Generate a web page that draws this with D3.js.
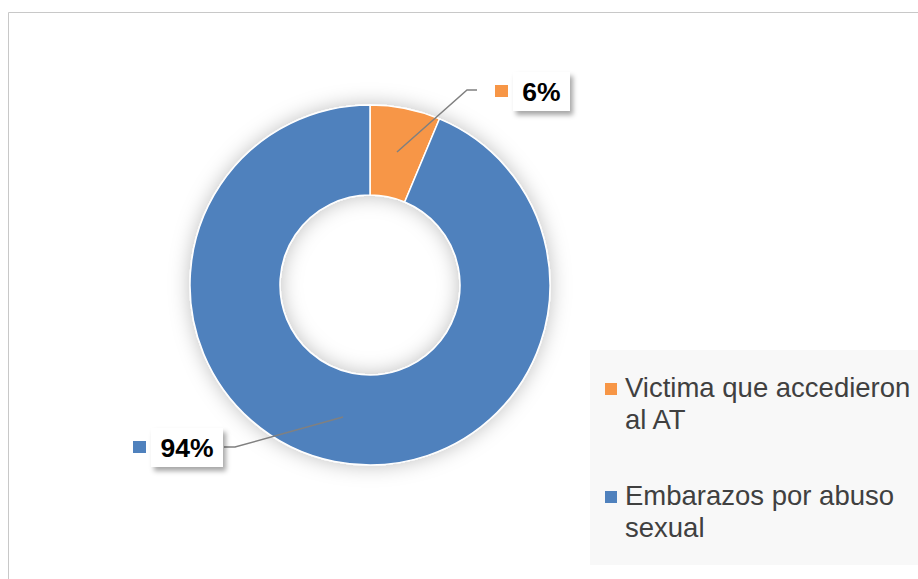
<!DOCTYPE html>
<html>
<head>
<meta charset="utf-8">
<script src="https://cdn.jsdelivr.net/npm/d3@7"></script>
<style>
  body { margin: 0; background: #fff; }
  svg { display: block; font-family: "Liberation Sans", Arial, sans-serif; }
</style>
</head>
<body>
<svg id="chart" width="918" height="579"></svg>
<script>
// data
const categories = ['Victima que accedieron al AT', 'Embarazos por abuso sexual'];
const values     = [6.3, 93.7];
const labels     = ['6%', '94%'];
const colors     = ['#f79646', '#4f81bd'];
const legendLines = [['Victima que accedieron', 'al AT'], ['Embarazos por abuso', 'sexual']];

const svg = d3.select('#chart');
const W = 918, H = 579;

// chart border
svg.append('path')
    .attr('d', `M8.5,${H} V12.5 H${W}`)
    .attr('fill', 'none').attr('stroke', '#c8c8c8').attr('stroke-width', 1);

const defs = svg.append('defs');
const glow = defs.append('filter').attr('id', 'glow')
    .attr('x', '-30%').attr('y', '-30%').attr('width', '160%').attr('height', '160%');
glow.append('feDropShadow').attr('dx', 0).attr('dy', 0)
    .attr('stdDeviation', 10).attr('flood-color', '#000').attr('flood-opacity', 0.25);

const boxShadow = defs.append('filter').attr('id', 'boxShadow')
    .attr('x', '-20%').attr('y', '-20%').attr('width', '150%').attr('height', '160%');
boxShadow.append('feDropShadow').attr('dx', 3).attr('dy', 4)
    .attr('stdDeviation', 2.5).attr('flood-color', '#000').attr('flood-opacity', 0.35);

const cx = 370, cy = 285, R = 180, r = 90;
const g = svg.append('g').attr('transform', `translate(${cx},${cy})`);

const pie = d3.pie().sort(null).value(d => d)(values);
const arc = d3.arc().innerRadius(r).outerRadius(R);

g.append('g').attr('filter', 'url(#glow)')
    .selectAll('path')
    .data(pie)
    .join('path')
    .attr('d', arc)
    .attr('fill', (d, i) => colors[i])
    .attr('stroke', '#fff')
    .attr('stroke-width', 1.5);

// data labels with leader lines
const labelPos = [
    { box: [513, 72, 57, 39], line: [[397, 152], [467, 90], [477, 90]] },
    { box: [151, 428, 72, 39], line: [[343, 417], [235, 447], [224, 447]] }
];

labels.forEach((lab, i) => {
    const p = labelPos[i];
    svg.append('path')
        .attr('d', d3.line()(p.line))
        .attr('fill', 'none').attr('stroke', '#808080').attr('stroke-width', 1.5);
    const [bx, by, bw, bh] = p.box;
    svg.append('rect')
        .attr('x', bx).attr('y', by).attr('width', bw).attr('height', bh)
        .attr('fill', '#fff').attr('filter', 'url(#boxShadow)');
    svg.append('rect')
        .attr('x', bx - 18).attr('y', by + 13).attr('width', 13).attr('height', 12)
        .attr('fill', colors[i]);
    svg.append('text')
        .attr('x', bx + bw / 2).attr('y', by + bh / 2 + 9)
        .attr('text-anchor', 'middle')
        .attr('font-size', 26.5).attr('font-weight', 'bold').attr('fill', '#000')
        .text(lab);
});

// legend
svg.append('rect')
    .attr('x', 590).attr('y', 350).attr('width', W - 590).attr('height', 215)
    .attr('fill', '#f8f8f8');

const leg = svg.append('g');
const legY = [397, 505];
categories.forEach((c, i) => {
    leg.append('rect')
        .attr('x', 605).attr('y', legY[i] - 14).attr('width', 12).attr('height', 12)
        .attr('fill', colors[i]);
    const t = leg.append('text')
        .attr('x', 625).attr('y', legY[i])
        .attr('font-size', 27.5).attr('fill', '#404040');
    legendLines[i].forEach((ln, j) => {
        t.append('tspan').attr('x', 625).attr('dy', j ? 32 : 0).text(ln);
    });
});
</script>
</body>
</html>
